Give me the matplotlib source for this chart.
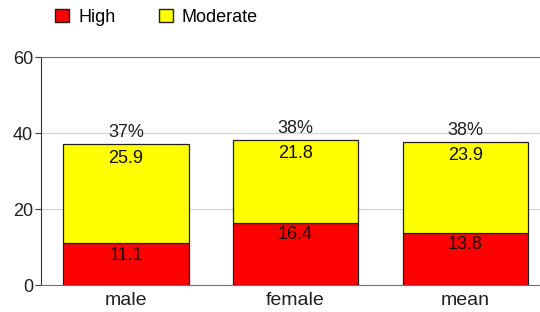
import matplotlib.pyplot as plt
import matplotlib.patches as patches
import numpy as np

plt.rcParams['font.family'] = ['Liberation Sans', 'DejaVu Sans']

groups = ['male', 'female', 'mean']
high = [11.1, 16.4, 13.8]
moderate = [25.9, 21.8, 23.9]

x = np.arange(len(groups))
total = np.array(high) + np.array(moderate)

fig = plt.figure(figsize=(5.4, 3.12), dpi=100)
ax = fig.add_axes([0.076, 0.0865, 0.924, 0.7305])

ax.bar(x, high, width=0.74, color='#ff0000', edgecolor='#202020', linewidth=0.9, zorder=3)
ax.bar(x, moderate, width=0.74, bottom=high, color='#ffff00', edgecolor='#202020', linewidth=0.9, zorder=3)

for i in range(len(groups)):
    ax.text(x[i], high[i] - 3.2, f"{high[i]:.1f}", ha='center', va='center', fontsize=13, color='#101010', zorder=4)
    ax.text(x[i], total[i] - 3.6, f"{moderate[i]:.1f}", ha='center', va='center', fontsize=13, color='#101010', zorder=4)
    ax.text(x[i], total[i] + 3.1, f"{total[i]:.0f}%", ha='center', va='center', fontsize=13, color='#202020', zorder=4)

ax.set_xlim(-0.5, 2.44)
ax.set_ylim(0, 60)
ax.set_yticks([0, 20, 40, 60])
ax.set_xticks(x)
ax.set_xticklabels(groups, fontsize=14, color='#202020')
ax.tick_params(axis='x', length=0, pad=5)
ax.tick_params(axis='y', labelsize=13, length=4.3, width=0.8, pad=1.5, color='#404040', labelcolor='#202020')
ax.yaxis.grid(True, color='#d0d0d0', linewidth=0.8, zorder=0)
ax.spines['right'].set_visible(False)
ax.spines['top'].set_color('#707070')
ax.spines['bottom'].set_color('#707070')
ax.spines['left'].set_color('#303030')

handles = [patches.Patch(facecolor='#ff0000', edgecolor='#202020', label='High'),
           patches.Patch(facecolor='#ffff00', edgecolor='#202020', label='Moderate')]
fig.legend(handles=handles, loc='upper left', bbox_to_anchor=(0.102, 0.972), ncol=2, frameon=False,
           fontsize=13, handlelength=0.78, handleheight=0.72, columnspacing=2.4, handletextpad=0.5,
           borderpad=0, borderaxespad=0)

fig.savefig('out.png', dpi=100)
